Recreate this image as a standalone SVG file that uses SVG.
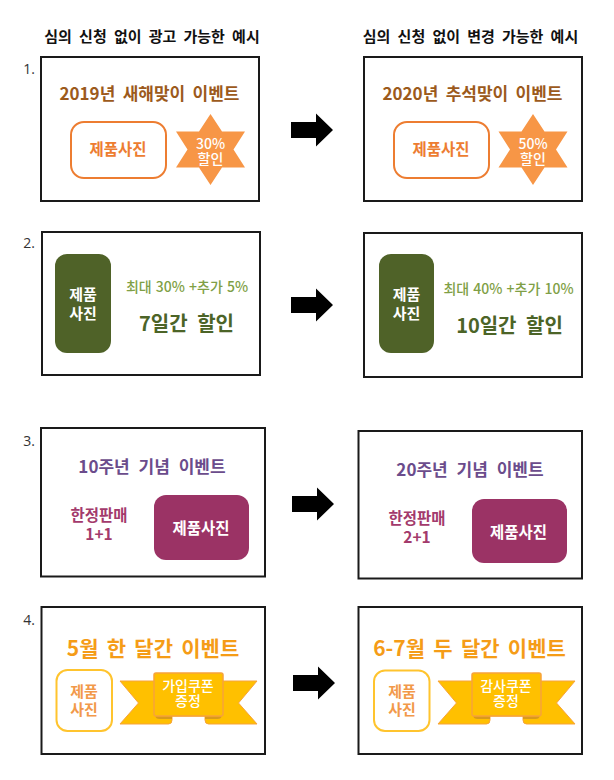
<svg xmlns="http://www.w3.org/2000/svg" width="614" height="780" viewBox="0 0 614 780">
<style>
text{font-family:"Noto Sans CJK KR","Noto Sans",sans-serif;text-anchor:middle;font-weight:700}
.h{font-size:15px;fill:#111;word-spacing:3.8px}
.n{font-family:"Open Sans","Noto Sans",sans-serif;font-size:14px;font-weight:400;fill:#333}
.f{fill:#fff;stroke:#1a1a1a;stroke-width:2}
.o{fill:#9c5a1c;font-size:17px;word-spacing:3.5px}
.w{fill:#fff;font-size:15px}
.t{fill:#fff;font-size:14px;font-weight:500}
.g{fill:#7f9f46;font-size:14px;font-weight:500;word-spacing:1px}
.d{fill:#4c6427;font-size:20px;word-spacing:5px}
.p{fill:#6b4c8c;font-size:17px;word-spacing:5px}
.m{fill:#a33a6c;font-size:15.5px}
.y{fill:#f59c17;font-size:21px;word-spacing:3.5px}
.s{fill:#f2994a;font-size:15px}
.q{fill:#ed7d31;font-size:15.5px}
.b{fill:#fff;stroke:#ed7d31;stroke-width:2}
.c{fill:#fff;stroke:#ffc42e;stroke-width:2}
</style>
<defs>
<path id="arrow" d="M0 -8H25V-16.5L42 0 25 16.5V8H0Z" fill="#000"/>
<polygon id="star" points="0,-35.5 11.5,-18 34.5,-18 23,0 34.5,18 11.5,18 0,35.5 -11.5,18 -34.5,18 -23,0 -34.5,-18 -11.5,-18" fill="#f79646"/>
<g id="ribbon">
<path d="M-68.5 -22H68.5L50 0 68.5 21H20Q16.5 21 16.5 17V13H-16.5V17Q-16.5 21 -20 21H-68.5L-50 0Z" fill="#ffc000" stroke="#f7a33a"/>
<path d="M-33 13H-16.5V16H-29Q-33 16 -33 13ZM33 13H16.5V16H29Q33 16 33 13Z" fill="#d99a1a"/>
<rect x="-34.5" y="-30" width="69" height="43" rx="2" fill="#ffc000" stroke="#f7a33a" stroke-width="1.5"/>
</g>
</defs>
<g id="headers">
<text class="h" x="152" y="41.5">심의 신청 없이 광고 가능한 예시</text>
<text class="h" x="470.5" y="41.5">심의 신청 없이 변경 가능한 예시</text>
<text class="n" x="29" y="74">1.</text>
<text class="n" x="29" y="248">2.</text>
<text class="n" x="29" y="446">3.</text>
<text class="n" x="29" y="625">4.</text>
</g>
<g id="connectors">
<use href="#arrow" x="291" y="130"/>
<use href="#arrow" x="291" y="305"/>
<use href="#arrow" x="292" y="504"/>
<use href="#arrow" x="293" y="683"/>
</g>
<g id="card-1a">
<rect class="f" x="41" y="57" width="218" height="144"/>
<text class="o" x="149.5" y="99.5">2019년 새해맞이 이벤트</text>
<rect class="b" x="71" y="122" width="95" height="56" rx="13"/>
<text class="q" x="118" y="155">제품사진</text>
<use href="#star" x="210.5" y="149.5"/>
<text class="t"><tspan x="210.5" y="148.5">30%</tspan><tspan x="210.5" y="163.5">할인</tspan></text>
</g>
<g id="card-1b">
<rect class="f" x="364" y="57" width="218" height="144"/>
<text class="o" x="472.5" y="99.5">2020년 추석맞이 이벤트</text>
<rect class="b" x="394" y="122" width="95" height="56" rx="13"/>
<text class="q" x="441" y="155">제품사진</text>
<use href="#star" x="533" y="149.5"/>
<text class="t"><tspan x="533" y="148.5">50%</tspan><tspan x="533" y="163.5">할인</tspan></text>
</g>
<g id="card-2a">
<rect class="f" x="42" y="232" width="218" height="143"/>
<rect x="55" y="254" width="56" height="99" rx="12" fill="#4f6228"/>
<text class="w"><tspan x="83" y="299.5">제품</tspan><tspan x="83" y="318.5">사진</tspan></text>
<text class="g" x="187" y="292">최대 30% +추가 5%</text>
<text class="d" x="186.5" y="330.5">7일간 할인</text>
</g>
<g id="card-2b">
<rect class="f" x="364" y="233" width="218" height="144"/>
<rect x="379" y="254" width="55" height="99" rx="12" fill="#4f6228"/>
<text class="w"><tspan x="406.5" y="299.5">제품</tspan><tspan x="406.5" y="318.5">사진</tspan></text>
<text class="g" x="508.5" y="294">최대 40% +추가 10%</text>
<text class="d" x="509.5" y="332.5">10일간 할인</text>
</g>
<g id="card-3a">
<rect class="f" x="41" y="428" width="224" height="148.5"/>
<text class="p" x="152" y="472.5">10주년 기념 이벤트</text>
<text class="m"><tspan x="99" y="521">한정판매</tspan><tspan x="99" y="539.5">1+1</tspan></text>
<rect x="154" y="495" width="95" height="65" rx="12" fill="#9b3365"/>
<text class="q" style="fill:#fff" x="201" y="534">제품사진</text>
</g>
<g id="card-3b">
<rect class="f" x="358.5" y="431" width="223.5" height="147.5"/>
<text class="p" x="470" y="475.5">20주년 기념 이벤트</text>
<text class="m"><tspan x="417" y="524">한정판매</tspan><tspan x="417" y="542.5">2+1</tspan></text>
<rect x="472" y="499" width="95" height="64" rx="12" fill="#9b3365"/>
<text class="q" style="fill:#fff" x="518.5" y="538">제품사진</text>
</g>
<g id="card-4a">
<rect class="f" x="41.5" y="607" width="223.5" height="147"/>
<text class="y" x="153" y="656">5월 한 달간 이벤트</text>
<rect class="c" x="56.5" y="670" width="55.5" height="61" rx="11"/>
<text class="s"><tspan x="84" y="696.5">제품</tspan><tspan x="84" y="715">사진</tspan></text>
<use href="#ribbon" x="188.5" y="703"/>
<text class="t"><tspan x="188" y="691">가입쿠폰</tspan><tspan x="188" y="706">증정</tspan></text>
</g>
<g id="card-4b">
<rect class="f" x="358.5" y="607" width="223.5" height="147"/>
<text class="y" x="469.5" y="656">6-7월 두 달간 이벤트</text>
<rect class="c" x="374" y="670.5" width="55.5" height="60.5" rx="11"/>
<text class="s"><tspan x="402" y="696.5">제품</tspan><tspan x="402" y="715">사진</tspan></text>
<use href="#ribbon" x="506.5" y="703"/>
<text class="t"><tspan x="506" y="691">감사쿠폰</tspan><tspan x="506" y="706">증정</tspan></text>
</g>
</svg>
